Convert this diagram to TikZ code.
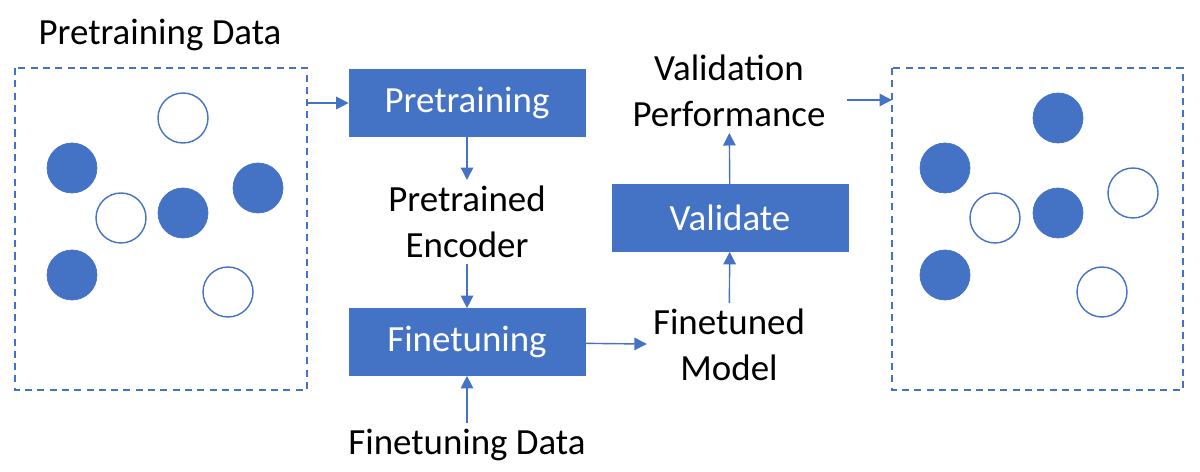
\documentclass[tikz,border=0pt]{standalone}
\usepackage{fontspec}
\setmainfont{Carlito}
\usetikzlibrary{arrows.meta}
\definecolor{officeblue}{HTML}{4472C4}
\tikzset{
  stage/.style={
    % blue process box
    rectangle,draw=officeblue,fill=officeblue,
    minimum width=4.72cm,minimum height=1.34cm,
    text=white,font=\fontsize{21}{25}\selectfont},
  caption/.style={align=center,font=\fontsize{21}{26}\selectfont},
  pool/.style={draw=officeblue,thick,dash pattern=on 4pt off 3pt},
  full/.style={circle,draw=officeblue,fill=officeblue,minimum size=1cm,inner sep=0pt},
  empty/.style={circle,draw=officeblue,thick,fill=white,minimum size=1cm,inner sep=0pt},
  flow/.style={->,>={Triangle[length=2.5mm,width=2.5mm]},draw=officeblue,thick}}
\begin{document}
\begin{tikzpicture}[x=0.02cm,y=-0.02cm]
	\useasboundingbox (0,0) rectangle (1200,472);
	% Data pools
	\draw[pool] (15,68) rectangle (307,390);
	\draw[pool] (892,68) rectangle (1183,390);
	\node[caption] (pdata) at (160,35) {Pretraining Data};
	% Left pool
	\node[full] (l1) at (72,168) {};
	\node[full] (l2) at (72,275) {};
	\node[full] (l3) at (183,213) {};
	\node[full] (l4) at (258,188) {};
	\node[empty] (l5) at (183,118) {};
	\node[empty] (l6) at (121,218) {};
	\node[empty] (l7) at (228,292) {};
	% Right pool
	\node[full] (r1) at (1058,118) {};
	\node[full] (r2) at (945,168) {};
	\node[full] (r3) at (1058,213) {};
	\node[full] (r4) at (945,275) {};
	\node[empty] (r5) at (1133,193) {};
	\node[empty] (r6) at (995,218) {};
	\node[empty] (r7) at (1102,292) {};
	% Steps
	\node[stage] (pretrain) at (467,103) {Pretraining};
	\node[stage] (finetune) at (467,342) {Finetuning};
	\node[stage] (validate) at (730,218) {Validate};
	\node[caption] (encoder) at (467,222) {Pretrained\\Encoder};
	\node[caption] (fdata) at (467,445) {Finetuning Data};
	\node[caption] (model) at (729,345) {Finetuned\\Model};
	\node[caption] (perf) at (729,91) {Validation\\Performance};
	% Connectors
	\coordinate (lout) at (307,103);
	\coordinate (pout) at (847,100);
	\coordinate (rin) at (892,100);
	\draw[flow] (lout) -- (pretrain.west);
	\draw[flow] (pretrain) -- (encoder);
	\draw[flow] (encoder) -- (finetune);
	\draw[flow] (fdata) -- (finetune);
	\draw[flow] (finetune) -- (model);
	\draw[flow] (model) -- (validate);
	\draw[flow] (validate) -- (perf);
	\draw[flow] (pout) -- (rin);
\end{tikzpicture}
\end{document}
